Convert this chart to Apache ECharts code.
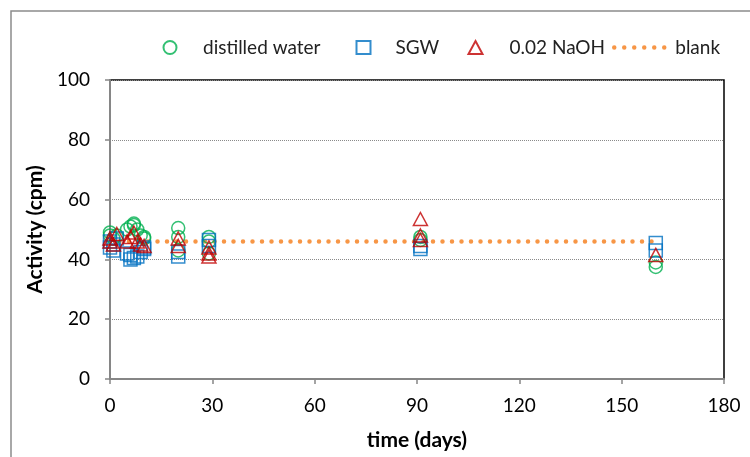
<!DOCTYPE html>
<html>
<head>
<meta charset="utf-8">
<script src="https://cdn.jsdelivr.net/npm/echarts@6/dist/echarts.min.js"></script>
<style>
  html, body { margin: 0; padding: 0; background: #fff; }
  #chart { width: 750px; height: 457px; }
</style>
</head>
<body>
<div id="chart"></div>
<script>
// values
var waterDays = [0, 0, 1, 2, 5, 6, 7, 7, 8, 9, 10, 10, 20, 20, 20, 29, 29, 29, 91, 91, 160, 160];
var waterVals = [48, 49, 47, 48, 50, 51, 52, 51.5, 50, 48, 47.5, 47, 50.5, 47.5, 43, 47.5, 46, 42, 47.5, 46.5, 39, 37.5];

var sgwDays = [0, 0, 1, 1, 2, 5, 6, 6, 7, 8, 9, 10, 10, 20, 20, 29, 29, 91, 91, 160, 160];
var sgwVals = [46, 44, 43, 45, 47, 42, 40, 41.5, 40.5, 41, 42.5, 43.5, 44, 41, 42.5, 46.5, 44.5, 44.5, 43.5, 45.5, 43];

var naohDays = [0, 0, 1, 2, 5, 6, 7, 8, 9, 10, 20, 20, 29, 29, 29, 91, 91, 91, 160];
var naohVals = [46, 47, 45, 48.5, 46, 47.5, 49, 46, 45, 44.5, 47, 44.5, 44, 42, 41, 53.5, 48, 46.5, 41.5];

var blankDays = [0, 160];
var blankVals = [46, 46];

var xTicks = [0, 30, 60, 90, 120, 150, 180];
var yTicks = [0, 20, 40, 60, 80, 100];

function pairs(xs, ys) {
  var out = [];
  for (var i = 0; i < xs.length; i++) out.push([xs[i], ys[i]]);
  return out;
}

var font = 'Lato';
var chart = echarts.init(document.getElementById('chart'));

// one legend per series so each entry sits where the picture has it
function legendAt(item, left, w, pad) {
  return {
    data: [item],
    left: left,
    top: 33,
    itemWidth: w,
    itemHeight: 13,
    lineStyle: { width: 4.5, type: [0, 10], cap: 'round' },
    textStyle: { fontFamily: font, fontSize: 19, color: '#222', padding: [0, 0, 0, pad] }
  };
}

var option = {
  animation: false,
  graphic: [{
    type: 'rect',
    shape: { x: 11, y: 11, width: 800, height: 500 },
    style: { fill: 'none', stroke: '#8c8c8c', lineWidth: 1.5 },
    silent: true
  }],
  legend: [
    legendAt('distilled water', 156, 14, 21),
    legendAt('SGW', 349, 14, 20),
    legendAt('0.02 NaOH', 461, 14, 22),
    legendAt({ name: 'blank', itemStyle: { opacity: 0 } }, 607, 53, 3)
  ],
  grid: {
    left: 110, right: 26, top: 80, bottom: 78,
    outerBoundsMode: 'none',
    containLabel: false,
    show: true, borderColor: '#000', borderWidth: 1.5
  },
  xAxis: {
    type: 'value',
    min: xTicks[0], max: xTicks[xTicks.length - 1], interval: 30,
    name: 'time (days)',
    nameLocation: 'middle',
    nameGap: 51,
    nameTextStyle: { fontFamily: font, fontSize: 21, fontWeight: 'bold', color: '#000' },
    axisLine: { lineStyle: { color: '#868686', width: 2 } },
    axisTick: { show: true, inside: false, length: 5, lineStyle: { color: '#868686', width: 1.5 } },
    axisLabel: { fontFamily: font, fontSize: 19, color: '#000', margin: 17 },
    splitLine: { show: false }
  },
  yAxis: {
    type: 'value',
    min: yTicks[0], max: yTicks[yTicks.length - 1], interval: 20,
    name: 'Activity (cpm)',
    nameLocation: 'middle',
    nameGap: 52,
    nameTextStyle: { fontFamily: font, fontSize: 21, fontWeight: 'bold', color: '#000' },
    axisLine: { show: true, lineStyle: { color: '#868686', width: 2 } },
    axisTick: { show: true, inside: false, length: 5, lineStyle: { color: '#868686', width: 1.5 } },
    axisLabel: { fontFamily: font, fontSize: 19, color: '#000', margin: 20 },
    splitLine: { show: true, lineStyle: { color: '#8a8a8a', type: 'dotted', width: 1 } }
  },
  series: [
    {
      name: 'blank',
      type: 'line',
      data: pairs(blankDays, blankVals),
      symbol: 'none',
      lineStyle: { color: '#F79646', width: 4.5, type: [0, 9.5], cap: 'round' },
      itemStyle: { color: '#F79646' },
      z: 1
    },
    {
      name: 'distilled water',
      type: 'scatter',
      data: pairs(waterDays, waterVals),
      symbol: 'circle',
      symbolSize: 13,
      itemStyle: { color: 'none', borderColor: '#00B050', borderWidth: 1.5 },
      z: 2
    },
    {
      name: 'SGW',
      type: 'scatter',
      data: pairs(sgwDays, sgwVals),
      symbol: 'rect',
      symbolSize: 13,
      itemStyle: { color: 'none', borderColor: '#0070C0', borderWidth: 1.5 },
      z: 3
    },
    {
      name: '0.02 NaOH',
      type: 'scatter',
      data: pairs(naohDays, naohVals),
      symbol: 'triangle',
      symbolSize: [14, 13],
      itemStyle: { color: 'none', borderColor: '#C00000', borderWidth: 1.5 },
      z: 4
    }
  ]
};
chart.setOption(option);
</script>
</body>
</html>
